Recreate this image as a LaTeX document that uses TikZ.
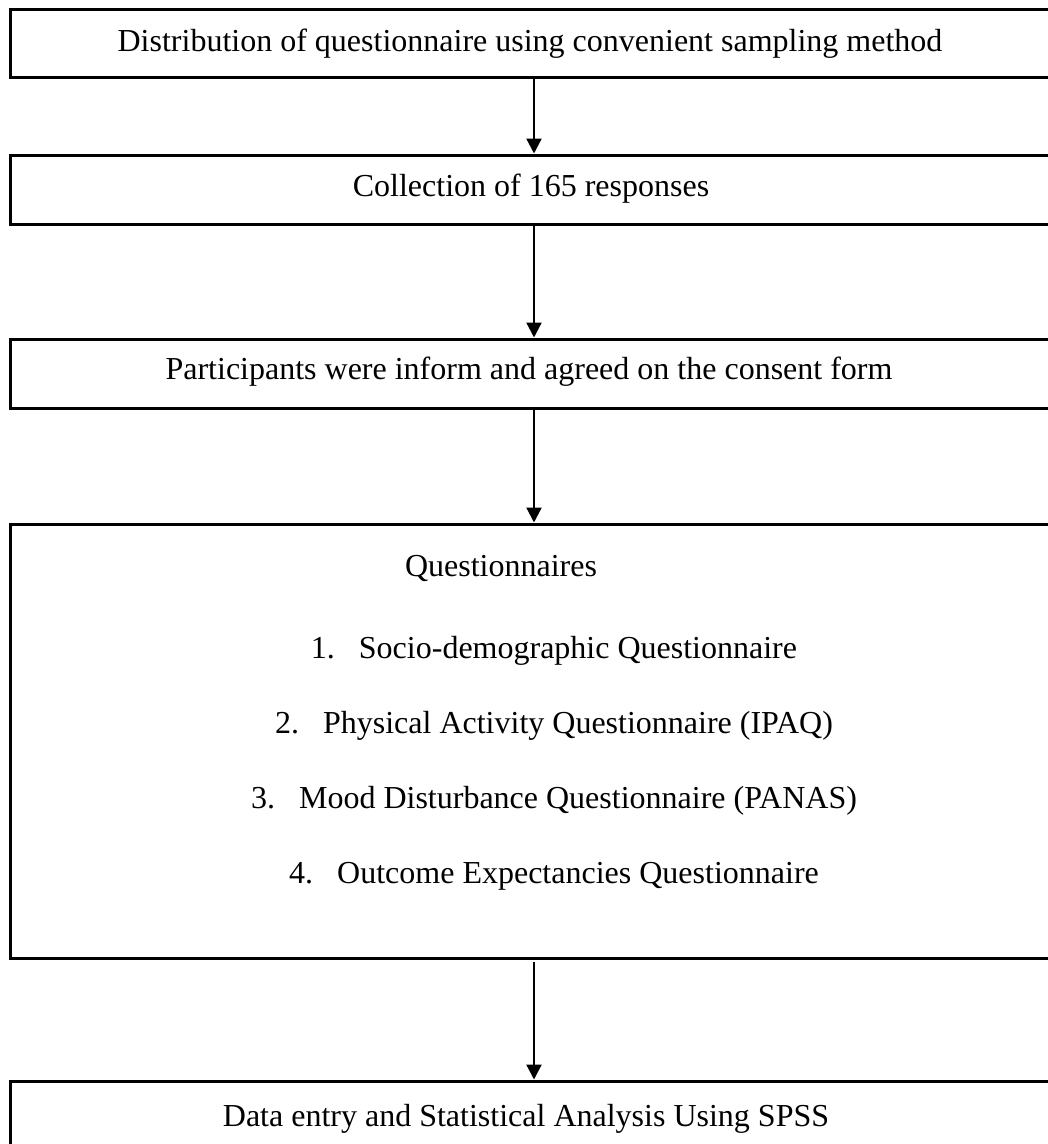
\documentclass[tikz,border=0pt]{standalone}
\usepackage{fontspec}
\setmainfont{Liberation Serif}
\usetikzlibrary{arrows.meta}
\begin{document}
\begin{tikzpicture}[x=1pt,y=-1pt,
  stagebox/.style={draw=black,line width=3pt,rectangle,inner sep=0pt},
  label/.style={inner sep=0pt,anchor=base,font=\fontsize{32}{38}\selectfont},
  flow/.style={line width=2.2pt,-{Triangle[width=15pt,length=15pt]}}]
\useasboundingbox (0,0) rectangle (1048,1144);
\clip (0,0) rectangle (1048,1144);
\node[stagebox,minimum width=1042pt,minimum height=68pt] (b1) at (531,43) {};
\node[stagebox,minimum width=1042pt,minimum height=69pt] (b2) at (531,189.5) {};
\node[stagebox,minimum width=1042pt,minimum height=69pt] (b3) at (531,373.5) {};
\node[stagebox,minimum width=1042pt,minimum height=434pt] (b4) at (531,741) {};
\node[stagebox,minimum width=1042pt,minimum height=80pt] (b5) at (531,1121) {};
\coordinate (ax) at (534,0);
\coordinate (a4s) at (534,962);
\node[label] (t1) at (530,51) {Distribution of questionnaire using convenient sampling method};
\node[label] (t2) at (531,196) {Collection of 165 responses};
\node[label] (t3) at (529,379) {Participants were inform and agreed on the consent form};
\node[label] (t4) at (501,576) {Questionnaires};
\node[label] (q1) at (554,658) {1.\hspace{24pt}Socio-demographic Questionnaire};
\node[label] (q2) at (554,733) {2.\hspace{24pt}Physical Activity Questionnaire (IPAQ)};
\node[label] (q3) at (554,808) {3.\hspace{24pt}Mood Disturbance Questionnaire (PANAS)};
\node[label] (q4) at (554,883) {4.\hspace{24pt}Outcome Expectancies Questionnaire};
\node[label] (t5) at (526,1126) {Data entry and Statistical Analysis Using SPSS};
\draw[flow] (b1.south -| ax) -- (b2.north -| ax);
\draw[flow] (b2.south -| ax) -- (b3.north -| ax);
\draw[flow] (b3.south -| ax) -- (b4.north -| ax);
\draw[flow] (a4s) -- (b5.north -| ax);
\end{tikzpicture}
\end{document}
